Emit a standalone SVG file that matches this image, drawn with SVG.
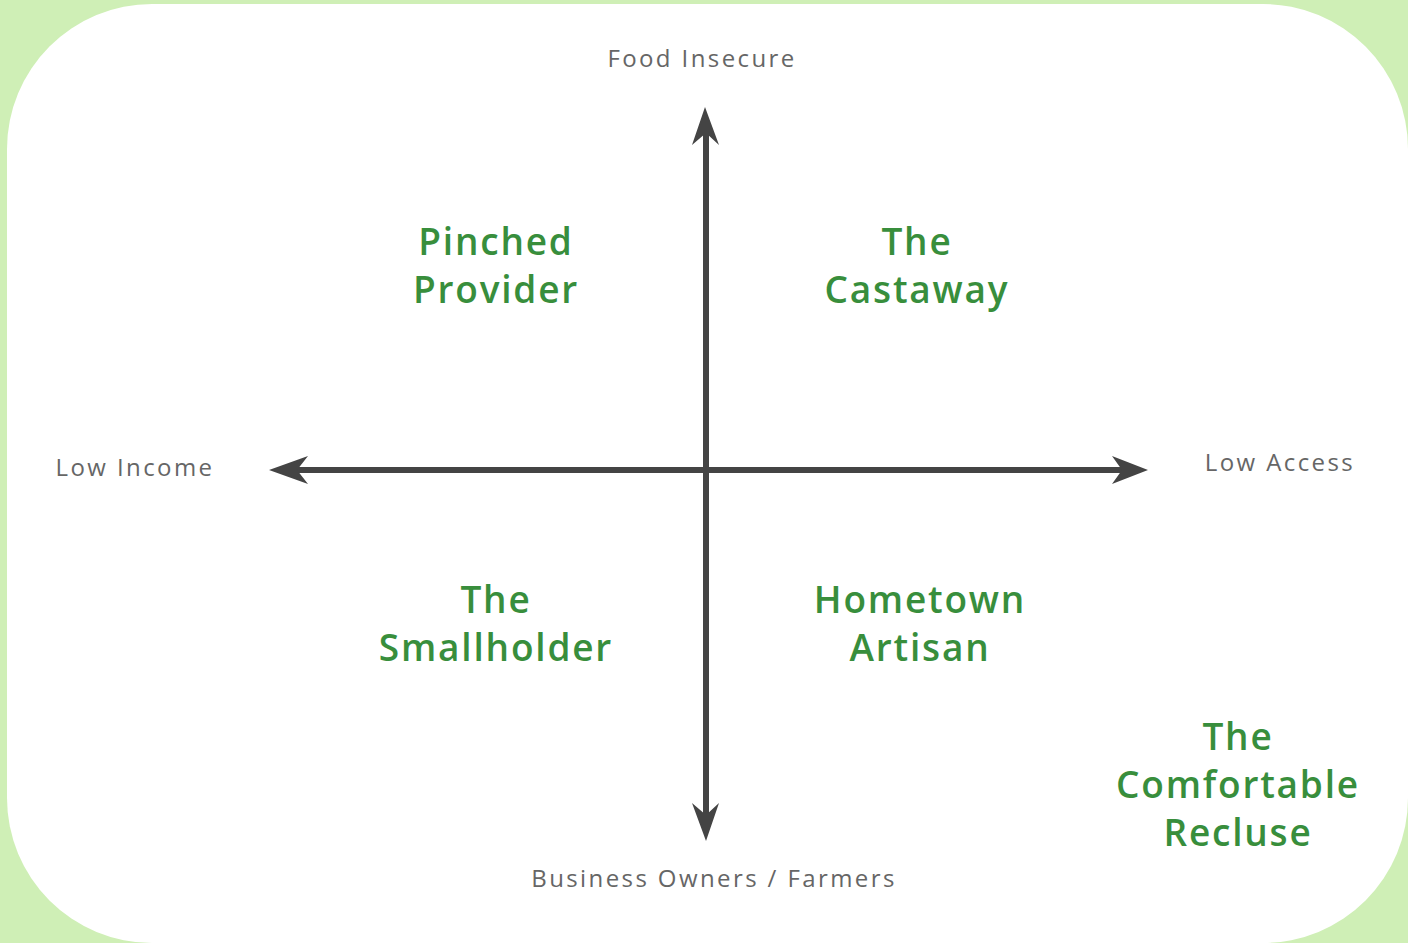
<svg xmlns="http://www.w3.org/2000/svg" width="1408" height="943" viewBox="0 0 1408 943">
<style>
.axis{font-family:"Open Sans","Noto Sans",sans-serif;font-size:24px;letter-spacing:2.4px;fill:#666666;text-anchor:middle}
.title{font-family:"Open Sans","Noto Sans",sans-serif;font-weight:600;font-size:37px;letter-spacing:1.8px;fill:#388e3c;text-anchor:middle}
.line{stroke:#444444;stroke-width:6;fill:none}
.head{fill:#444444}
</style>
<rect x="0" y="0" width="1408" height="943" fill="#cfefb6"/>
<rect x="7" y="4" width="1401" height="939" rx="145" ry="145" fill="#ffffff"/>
<g id="connectors">
<line class="line" x1="706" y1="128" x2="706" y2="820"/>
<line class="line" x1="292" y1="470" x2="1128" y2="470"/>
<polygon class="head" points="705,107 719,145 706,133 692,145"/>
<polygon class="head" points="706,841 719,803 706,815 692,803"/>
<polygon class="head" points="269,470 308,456 297,470 308,484"/>
<polygon class="head" points="1148,470 1112,456 1122,470 1112,484"/>
</g>
<g id="label-top"><text class="axis" x="702" y="67">Food Insecure</text></g>
<g id="label-left"><text class="axis" x="135" y="476">Low Income</text></g>
<g id="label-right"><text class="axis" x="1280" y="471">Low Access</text></g>
<g id="label-bottom"><text class="axis" x="714" y="887">Business Owners / Farmers</text></g>
<g id="pinched-provider"><text class="title" x="496" y="255">Pinched</text><text class="title" x="496" y="303">Provider</text></g>
<g id="the-castaway"><text class="title" x="917" y="255">The</text><text class="title" x="917" y="303">Castaway</text></g>
<g id="the-smallholder"><text class="title" x="496" y="613">The</text><text class="title" x="496" y="661">Smallholder</text></g>
<g id="hometown-artisan"><text class="title" x="920" y="613">Hometown</text><text class="title" x="920" y="661">Artisan</text></g>
<g id="the-comfortable-recluse"><text class="title" x="1238" y="750">The</text><text class="title" x="1238" y="798">Comfortable</text><text class="title" x="1238" y="846">Recluse</text></g>
</svg>
